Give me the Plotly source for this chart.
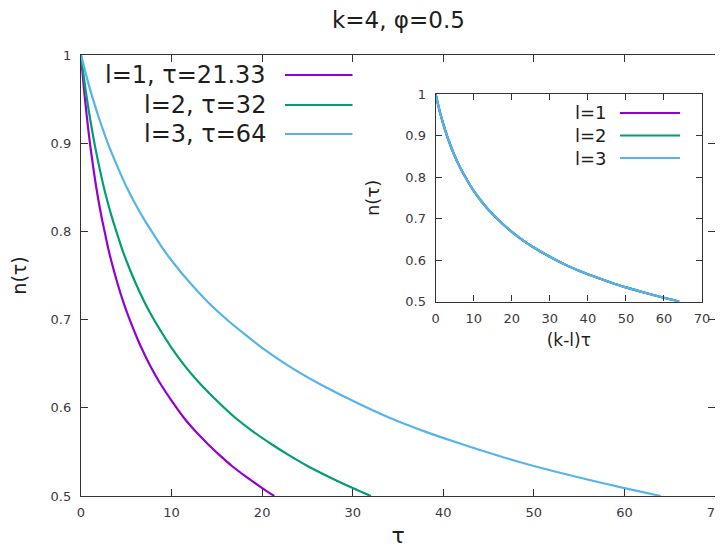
import plotly.graph_objects as go

# Data
# common curve: n versus (k-l)*tau (all three series collapse onto it in the inset)
scaled_tau = [0, 0.5, 1, 1.5, 2, 3, 4, 5, 6, 7, 8, 9, 10, 12, 14, 16, 18, 20, 23, 26,
              30, 34, 38, 42, 46, 50, 55, 60, 64]
n_values = [1.000, 0.980, 0.961, 0.944, 0.928, 0.899, 0.874, 0.851, 0.831, 0.813,
            0.797, 0.781, 0.767, 0.742, 0.720, 0.701, 0.684, 0.668, 0.647, 0.629,
            0.608, 0.589, 0.573, 0.559, 0.546, 0.534, 0.521, 0.509, 0.500]

tau_l1 = [0, 0.167, 0.333, 0.5, 0.667, 1, 1.333, 1.667, 2, 2.333, 2.667, 3, 3.333,
          4, 4.667, 5.333, 6, 6.667, 7.667, 8.667, 10, 11.333, 12.667, 14, 15.333,
          16.667, 18.333, 20, 21.333]
tau_l2 = [0, 0.25, 0.5, 0.75, 1, 1.5, 2, 2.5, 3, 3.5, 4, 4.5, 5, 6, 7, 8, 9, 10,
          11.5, 13, 15, 17, 19, 21, 23, 25, 27.5, 30, 32]
tau_l3 = [0, 0.5, 1, 1.5, 2, 3, 4, 5, 6, 7, 8, 9, 10, 12, 14, 16, 18, 20, 23, 26,
          30, 34, 38, 42, 46, 50, 55, 60, 64]

main_labels = ["l=1, τ=21.33", "l=2, τ=32", "l=3, τ=64"]
inset_labels = ["l=1", "l=2", "l=3"]
colors = ["#9400d3", "#009e73", "#56b4e9"]
title_text = "k=4, φ=0.5"

x_ticks = [0, 10, 20, 30, 40, 50, 60, 70]
y_ticks = [0.5, 0.6, 0.7, 0.8, 0.9, 1]
y_tick_text = ["0.5", "0.6", "0.7", "0.8", "0.9", "1"]

FONT = "DejaVu Sans"
AX = "#333333"
TXT = "#3a3a3a"
DARK = "#1e1e1e"

# the page body has an 8px margin, so the figure starts at (8, 8) on screen
OFF = 8
FW, FH = 723, 549

fig = go.Figure()
for tau, lab, col in zip([tau_l1, tau_l2, tau_l3], main_labels, colors):
    fig.add_trace(go.Scatter(x=tau, y=n_values, mode="lines", name=lab,
                             line=dict(color=col, width=2.2, shape="spline", smoothing=0.8),
                             xaxis="x", yaxis="y", showlegend=False))
for lab, col in zip(inset_labels, colors):
    fig.add_trace(go.Scatter(x=scaled_tau, y=n_values, mode="lines", name=lab,
                             line=dict(color=col, width=2.2, shape="spline", smoothing=0.8),
                             xaxis="x2", yaxis="y2", showlegend=False))

axis_common = dict(showgrid=False, zeroline=False, showline=True, linecolor=AX,
                   linewidth=1.3, mirror="ticks", ticks="inside", tickcolor=AX,
                   tickwidth=1.2, automargin=False, ticklabeloverflow="allow",
                   tickfont=dict(family=FONT, size=13, color=TXT))

# plot-area geometry (screen pixels of the reference)
L, R, T, B = 81, 715, 55, 496
W, H = R - L, B - T


def px(xs):
    return (xs - L) / W


def py(ys):
    return (B - ys) / H


ix0, ix1 = px(435.7), px(702)
iy0, iy1 = py(301.5), py(94.3)

fig.update_layout(
    width=FW, height=FH,
    margin=dict(l=L - OFF, r=FW - (R - OFF), t=T - OFF, b=FH - (B - OFF), autoexpand=False),
    paper_bgcolor="white", plot_bgcolor="white",
    font=dict(family=FONT, color=DARK),
    xaxis=dict(axis_common, range=[0, 70], tickvals=x_ticks, ticklen=7,
               ticklabelstandoff=4,
               title=dict(text="τ", font=dict(family=FONT, size=22, color=DARK),
                          standoff=8)),
    yaxis=dict(axis_common, range=[0.5, 1], tickvals=y_ticks, ticktext=y_tick_text,
               ticklen=7, ticklabelstandoff=6,
               title=dict(text="n(τ)", font=dict(family=FONT, size=19, color=DARK),
                          standoff=25)),
    xaxis2=dict(axis_common, domain=[ix0, ix1], anchor="y2", range=[0, 70],
                tickvals=x_ticks, ticklen=6, ticklabelstandoff=5,
                title=dict(text="(k-l)τ", font=dict(family=FONT, size=17, color=DARK),
                           standoff=8)),
    yaxis2=dict(axis_common, domain=[iy0, iy1], anchor="x2", range=[0.5, 1],
                tickvals=y_ticks, ticktext=y_tick_text, ticklen=6, ticklabelstandoff=6,
                title=dict(text="n(τ)", font=dict(family=FONT, size=18, color=DARK),
                           standoff=20)),
)

shapes = []
annotations = [dict(text=title_text, x=px((L + R) / 2), y=py(19.5), xref="paper",
                    yref="paper", xanchor="center", yanchor="middle", showarrow=False,
                    font=dict(family=FONT, size=23, color=DARK))]

# gnuplot-style keys: text right-aligned, sample line on the right
main_rows = [75, 105, 134]
for lab, col, yy in zip(main_labels, colors, main_rows):
    annotations.append(dict(text=lab, x=px(268), y=py(yy), xref="paper", yref="paper",
                            xanchor="right", yanchor="middle", showarrow=False,
                            font=dict(family=FONT, size=24, color=DARK)))
    shapes.append(dict(type="line", xref="paper", yref="paper",
                       x0=px(285), x1=px(352.5), y0=py(yy), y1=py(yy),
                       line=dict(color=col, width=2.2)))
inset_rows = [113, 135.5, 158]
for lab, col, yy in zip(inset_labels, colors, inset_rows):
    annotations.append(dict(text=lab, x=px(609), y=py(yy), xref="paper", yref="paper",
                            xanchor="right", yanchor="middle", showarrow=False,
                            font=dict(family=FONT, size=18, color=DARK)))
    shapes.append(dict(type="line", xref="paper", yref="paper",
                       x0=px(620), x1=px(680), y0=py(yy), y1=py(yy),
                       line=dict(color=col, width=2.2)))
fig.update_layout(shapes=shapes, annotations=annotations)

fig.write_html("out.html")
